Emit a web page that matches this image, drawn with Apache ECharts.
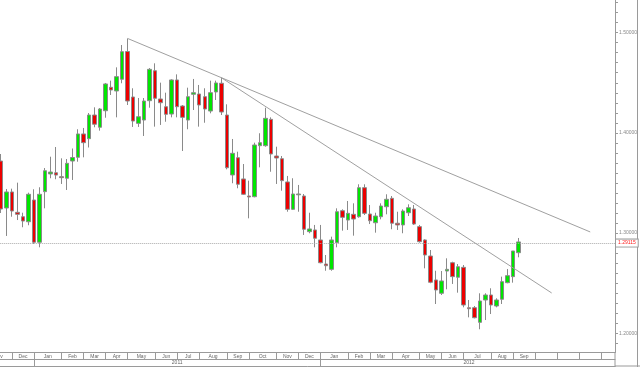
<!DOCTYPE html>
<html><head><meta charset="utf-8">
<script src="https://cdn.jsdelivr.net/npm/echarts@6/dist/echarts.min.js"></script>
<style>html,body{margin:0;padding:0;background:#fff}#c{width:640px;height:367px}</style>
</head><body><div id="c"></div>
<script>
// Weekly EUR/USD candles, first week starting 2010-11-22
const startDate = '2010-11-22';
const totalWeeks = 112;
const opens = [1.3719,1.3250,1.3410,1.3207,1.3163,1.3113,1.3330,1.2908,1.3413,1.3590,
1.3602,1.3563,1.3547,1.3719,1.3756,1.3989,1.3942,1.4178,1.4056,1.4221,
1.4455,1.4418,1.4535,1.4812,1.4358,1.4095,1.4128,1.4321,1.4620,1.4338,
1.4261,1.4188,1.4528,1.4268,1.4128,1.4385,1.4388,1.4361,1.4218,1.4408,
1.4495,1.4178,1.3580,1.3752,1.3540,1.3370,1.3363,1.3872,1.3872,1.4135,
1.3769,1.3742,1.3510,1.3237,1.3382,1.3370,1.3014,1.3031,1.2931,1.2691,
1.2638,1.2904,1.3223,1.3130,1.3187,1.3163,1.3453,1.3190,1.3103,1.3163,
1.3263,1.3347,1.3098,1.3081,1.3203,1.3240,1.3064,1.2931,1.2771,1.2532,
1.2399,1.2621,1.2704,1.2559,1.2658,1.2255,1.2255,1.2109,1.2332,1.2382,
1.2272,1.2339,1.2505,1.2565,1.2804];
const highs = [1.3789,1.3440,1.3443,1.3503,1.3203,1.3403,1.3437,1.3457,1.3649,1.3762,
1.3859,1.3746,1.3739,1.3844,1.4036,1.4049,1.4198,1.4255,1.4248,1.4498,
1.4521,1.4654,1.4877,1.4942,1.4445,1.4348,1.4348,1.4647,1.4694,1.4501,
1.4401,1.4535,1.4584,1.4278,1.4451,1.4538,1.4478,1.4445,1.4521,1.4521,
1.4551,1.4285,1.3939,1.3812,1.3689,1.3523,1.3902,1.3996,1.4251,1.4155,
1.3862,1.3769,1.3570,1.3547,1.3480,1.3390,1.3203,1.3081,1.3081,1.2781,
1.2964,1.3247,1.3237,1.3320,1.3297,1.3487,1.3487,1.3280,1.3203,1.3297,
1.3387,1.3370,1.3213,1.3237,1.3287,1.3280,1.3081,1.2938,1.2831,1.2624,
1.2621,1.2748,1.2714,1.2691,1.2681,1.2332,1.2272,1.2399,1.2399,1.2449,
1.2349,1.2565,1.2641,1.2821,1.2951];
const lows = [1.3200,1.2971,1.3163,1.3130,1.3058,1.3078,1.2891,1.2858,1.3247,1.3547,
1.3537,1.3490,1.3430,1.3530,1.3712,1.3756,1.3854,1.4056,1.4022,1.4151,
1.4378,1.4155,1.4495,1.4278,1.4059,1.4059,1.3969,1.4251,1.4062,1.4079,
1.4111,1.4155,1.4155,1.3819,1.4036,1.4228,1.4062,1.4101,1.4195,1.4328,
1.4178,1.3636,1.3497,1.3447,1.3380,1.3147,1.3357,1.3656,1.3862,1.3612,
1.3490,1.3423,1.3213,1.3230,1.3213,1.2981,1.2998,1.2858,1.2698,1.2624,
1.2624,1.2858,1.3024,1.3031,1.2974,1.3153,1.3180,1.3090,1.3004,1.3137,
1.3187,1.3038,1.3031,1.2998,1.3170,1.3081,1.2904,1.2648,1.2499,1.2292,
1.2382,1.2439,1.2492,1.2405,1.2259,1.2159,1.2149,1.2040,1.2132,1.2192,
1.2259,1.2292,1.2499,1.2505,1.2758];
const closes = [1.3240,1.3410,1.3220,1.3187,1.3120,1.3387,1.2908,1.3387,1.3622,1.3609,
1.3579,1.3553,1.3696,1.3754,1.3989,1.3902,1.4178,1.4086,1.4238,1.4488,
1.4428,1.4561,1.4810,1.4318,1.4118,1.4161,1.4318,1.4634,1.4345,1.4301,
1.4185,1.4528,1.4261,1.4155,1.4361,1.4401,1.4278,1.4238,1.4401,1.4498,
1.4208,1.3652,1.3796,1.3487,1.3387,1.3360,1.3879,1.3902,1.4145,1.3789,
1.3749,1.3523,1.3237,1.3390,1.3390,1.3038,1.3041,1.2948,1.2704,1.2674,
1.2931,1.3213,1.3157,1.3197,1.3140,1.3453,1.3197,1.3123,1.3170,1.3270,
1.3337,1.3098,1.3081,1.3220,1.3253,1.3090,1.2914,1.2781,1.2509,1.2432,
1.2522,1.2638,1.2565,1.2664,1.2282,1.2245,1.2155,1.2322,1.2382,1.2282,
1.2332,1.2515,1.2575,1.2821,1.29115];
const lastPrice = 1.29115;

// axis structure
const monthTickIdx = [2,6,11,15,19,23,28,32,36,41,45,50,54,58,63,67,71,76,80,84,89,93,97,101,105,109];
const monthLabels = [['Nov',-0.5],['Dec',4],['Jan',8.5],['Feb',13],['Mar',17],['Apr',21],['May',25.5],
['Jun',30],['Jul',34],['Aug',38.5],['Sep',43],['Oct',47.5],['Nov',52],['Dec',56],
['Jan',60.5],['Feb',65],['Mar',69],['Apr',73.5],['May',78],['Jun',82],['Jul',86.5],['Aug',91],['Sep',95]];
const yearTickIdx = [6,58];
const yearLabels = [['2011',32],['2012',85]];
const yLabelValues = [1.2,1.3,1.4,1.5];
const yMin = 1.1808, yMax = 1.5326;

// trend lines [categoryIndex, price]
const trendA = [[23,1.4942],[107,1.3011]];
const trendB = [[40,1.4551],[100,1.2402]];

// ---- build ----
const cats = [];
{
  const d0 = new Date(startDate + 'T00:00:00Z');
  for (let i = 0; i < totalWeeks; i++) {
    const d = new Date(d0.getTime() + i * 7 * 86400000);
    cats.push(d.toISOString().slice(0, 10));
  }
}
const candles = opens.map((o, i) => [o, closes[i], lows[i], highs[i]]);
const monthMap = {};
monthLabels.forEach(([t, p]) => { const idx = Math.round(p); monthMap[idx] = {t, half: idx !== p}; });
const yearMap = {};
yearLabels.forEach(([t, p]) => { yearMap[p] = t; });
const yTicks = [];
for (let k = 119; k <= 153; k++) yTicks.push(k / 100);

const FONT = 'Liberation Sans, Arial, sans-serif';
const GRID_COLOR = '#9a9a9a';
const chart = echarts.init(document.getElementById('c'), null, {renderer: 'canvas'});
chart.setOption({
  animation: false,
  backgroundColor: '#ffffff',
  grid: {left: -1.75, right: 25, top: 0, bottom: 14.5, containLabel: false, outerBoundsMode: 'none'},
  xAxis: [
    {
      type: 'category', data: cats, boundaryGap: true, position: 'bottom',
      axisLine: {show: true, lineStyle: {color: GRID_COLOR, width: 1}},
      axisTick: {show: true, alignWithLabel: true, length: 6.5, interval: (i) => monthTickIdx.includes(i), lineStyle: {color: GRID_COLOR}},
      axisLabel: {
        show: true, interval: (i) => monthMap[i] !== undefined, margin: 1.5,
        fontSize: 5, color: '#666', fontFamily: FONT,
        formatter: (v, i) => { const m = monthMap[i]; if (!m) return ''; return m.half ? '{h|' + m.t + '}' : m.t; },
        rich: {h: {padding: [0, 5.5, 0, 0], fontSize: 5, color: '#666', fontFamily: FONT}}
      },
      splitLine: {show: false}
    },
    {
      type: 'category', data: cats, boundaryGap: true, position: 'bottom', offset: 6.5,
      axisLine: {show: true, lineStyle: {color: GRID_COLOR, width: 1}},
      axisTick: {show: true, alignWithLabel: true, length: 7, interval: (i) => yearTickIdx.includes(i), lineStyle: {color: GRID_COLOR}},
      axisLabel: {
        show: true, interval: (i) => yearMap[i] !== undefined, margin: 1.5,
        fontSize: 5, color: '#666', fontFamily: FONT,
        formatter: (v, i) => yearMap[i] || ''
      },
      splitLine: {show: false}
    },
    {
      type: 'category', data: cats, boundaryGap: true, position: 'bottom', offset: 13.5,
      axisLine: {show: true, lineStyle: {color: GRID_COLOR, width: 1}},
      axisTick: {show: false}, axisLabel: {show: false}, splitLine: {show: false}
    }
  ],
  yAxis: [{
    type: 'value', position: 'right', min: yMin, max: yMax, scale: true,
    axisLine: {show: true, lineStyle: {color: GRID_COLOR, width: 1}},
    axisTick: {show: true, length: 3, customValues: yTicks, lineStyle: {color: GRID_COLOR}},
    axisLabel: {show: true, customValues: yLabelValues, formatter: (v) => v.toFixed(5), fontSize: 5, color: '#888', margin: 4, fontFamily: FONT},
    splitLine: {show: false}
  }],
  graphic: [
    {type: 'line', shape: {x1: 637.5, y1: 0, x2: 637.5, y2: 367}, style: {stroke: GRID_COLOR, lineWidth: 1}, silent: true},
    {type: 'line', shape: {x1: 615, y1: 352, x2: 615, y2: 367}, style: {stroke: GRID_COLOR, lineWidth: 1}, silent: true},
    {type: 'line', shape: {x1: 615, y1: 366, x2: 640, y2: 366}, style: {stroke: GRID_COLOR, lineWidth: 1}, silent: true}
  ],
  series: [{
    type: 'candlestick', data: candles, barWidth: 4, clip: false,
    itemStyle: {color: '#00e600', color0: '#ec0000', borderColor: '#8a8a8a', borderColor0: '#8a8a8a', borderWidth: 1},
    markLine: {
      silent: true, symbol: 'none', animation: false,
      data: [
        [{coord: [cats[trendA[0][0]], trendA[0][1]]}, {coord: [cats[trendA[1][0]], trendA[1][1]]}],
        [{coord: [cats[trendB[0][0]], trendB[0][1]]}, {coord: [cats[trendB[1][0]], trendB[1][1]]}],
        {yAxis: lastPrice, lineStyle: {type: 'dotted', color: '#aaaaaa', width: 1},
         label: {show: true, position: 'end', formatter: lastPrice.toFixed(5), color: '#ff2020', fontSize: 5, fontFamily: FONT,
                 backgroundColor: '#fff', borderColor: '#999', borderWidth: 1, padding: [1, 2, 1, 2], distance: 1}}
      ],
      lineStyle: {color: '#a0a0a0', width: 1, type: 'solid'},
      label: {show: false}
    }
  }]
});
</script></body></html>
